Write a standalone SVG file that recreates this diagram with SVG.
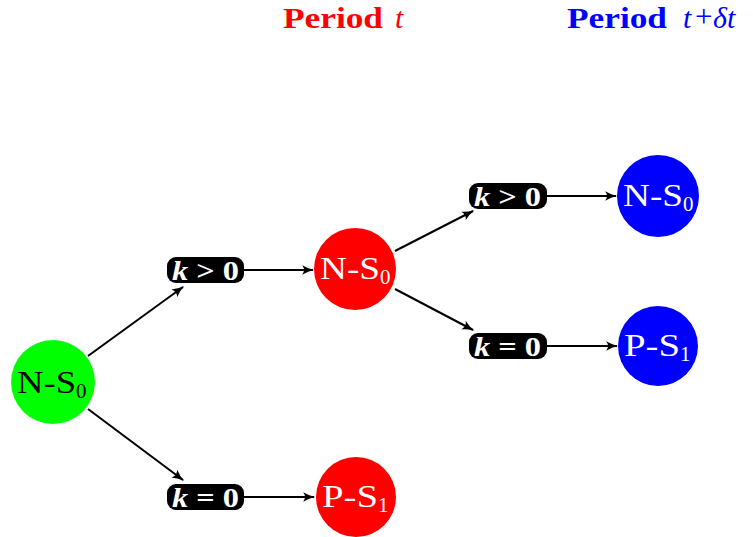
<svg xmlns="http://www.w3.org/2000/svg" width="753" height="537" viewBox="0 0 753 537">
<defs>
<style>
text{font-family:'Liberation Serif','Times New Roman',serif}
.title{font-size:30px;font-weight:bold}
.ti{font-size:30px;font-style:italic}
.nl{font-size:31px}
.sub{font-size:21px}
.lab{fill:#000}
.lt{font-size:27px;font-weight:bold;fill:#fff}
.edge{stroke:#000;stroke-width:2;fill:none;marker-end:url(#ah)}
</style>
<marker id="ah" viewBox="0 0 10 10" refX="9" refY="5" markerWidth="6" markerHeight="6" orient="auto" markerUnits="strokeWidth">
<path d="M0,1 Q5,4 10,5 Q5,6 0,9 Q3,5 0,1 Z" fill="#000"/>
</marker>
</defs>
<g id="titles">
<text x="283" y="28" class="title" fill="#f00" textLength="100" lengthAdjust="spacingAndGlyphs">Period</text>
<text x="395" y="28" class="ti" fill="#f00">t</text>
<text x="567" y="28" class="title" fill="#00f" textLength="100" lengthAdjust="spacingAndGlyphs">Period</text>
<text x="683" y="28" class="ti" fill="#00f">t</text>
<text x="695" y="27" class="nl" fill="#00f" font-size="24">+</text>
<text x="713" y="28" class="ti" fill="#00f">δt</text>
</g>
<g id="edges">
<path class="edge" d="M88,356 L183,287"/>
<path class="edge" d="M88,409 L183,480"/>
<path class="edge" d="M244,270 L313,270"/>
<path class="edge" d="M244,497 L314,497"/>
<path class="edge" d="M395,251 L473,211"/>
<path class="edge" d="M395,289 L473,330"/>
<path class="edge" d="M547,196 L616,196"/>
<path class="edge" d="M547,346 L617,346"/>
</g>
<g id="n0">
<circle cx="53" cy="382" r="42" fill="#0f0"/>
<text x="17" y="393" class="nl" fill="#000" textLength="59" lengthAdjust="spacingAndGlyphs">N-S</text>
<text x="76" y="398" class="nl sub" fill="#000">0</text>
</g>
<g id="l1">
<rect x="167" y="257" width="77" height="26" rx="9" class="lab"/>
<text x="172" y="280" class="lt" textLength="67" lengthAdjust="spacingAndGlyphs"><tspan font-style="italic">k</tspan> &gt; 0</text>
</g>
<g id="l2">
<rect x="167" y="484" width="77" height="26" rx="9" class="lab"/>
<text x="172" y="507" class="lt" textLength="67" lengthAdjust="spacingAndGlyphs"><tspan font-style="italic">k</tspan> = 0</text>
</g>
<g id="n1">
<circle cx="355" cy="269" r="41" fill="#f00"/>
<text x="320" y="279" class="nl" fill="#fff" textLength="60" lengthAdjust="spacingAndGlyphs">N-S</text>
<text x="380" y="284" class="nl sub" fill="#fff">0</text>
</g>
<g id="n2">
<circle cx="356" cy="497" r="40" fill="#f00"/>
<text x="322" y="507" class="nl" fill="#fff" textLength="56" lengthAdjust="spacingAndGlyphs">P-S</text>
<text x="378" y="512" class="nl sub" fill="#fff">1</text>
</g>
<g id="l3">
<rect x="469" y="183" width="78" height="26" rx="9" class="lab"/>
<text x="474" y="206" class="lt" textLength="67" lengthAdjust="spacingAndGlyphs"><tspan font-style="italic">k</tspan> &gt; 0</text>
</g>
<g id="l4">
<rect x="469" y="333" width="78" height="26" rx="9" class="lab"/>
<text x="474" y="356" class="lt" textLength="67" lengthAdjust="spacingAndGlyphs"><tspan font-style="italic">k</tspan> = 0</text>
</g>
<g id="n3">
<circle cx="658" cy="196" r="41" fill="#00f"/>
<text x="623" y="206" class="nl" fill="#fff" textLength="60" lengthAdjust="spacingAndGlyphs">N-S</text>
<text x="683" y="211" class="nl sub" fill="#fff">0</text>
</g>
<g id="n4">
<circle cx="658" cy="346" r="40" fill="#00f"/>
<text x="624" y="356" class="nl" fill="#fff" textLength="56" lengthAdjust="spacingAndGlyphs">P-S</text>
<text x="680" y="361" class="nl sub" fill="#fff">1</text>
</g>
</svg>
